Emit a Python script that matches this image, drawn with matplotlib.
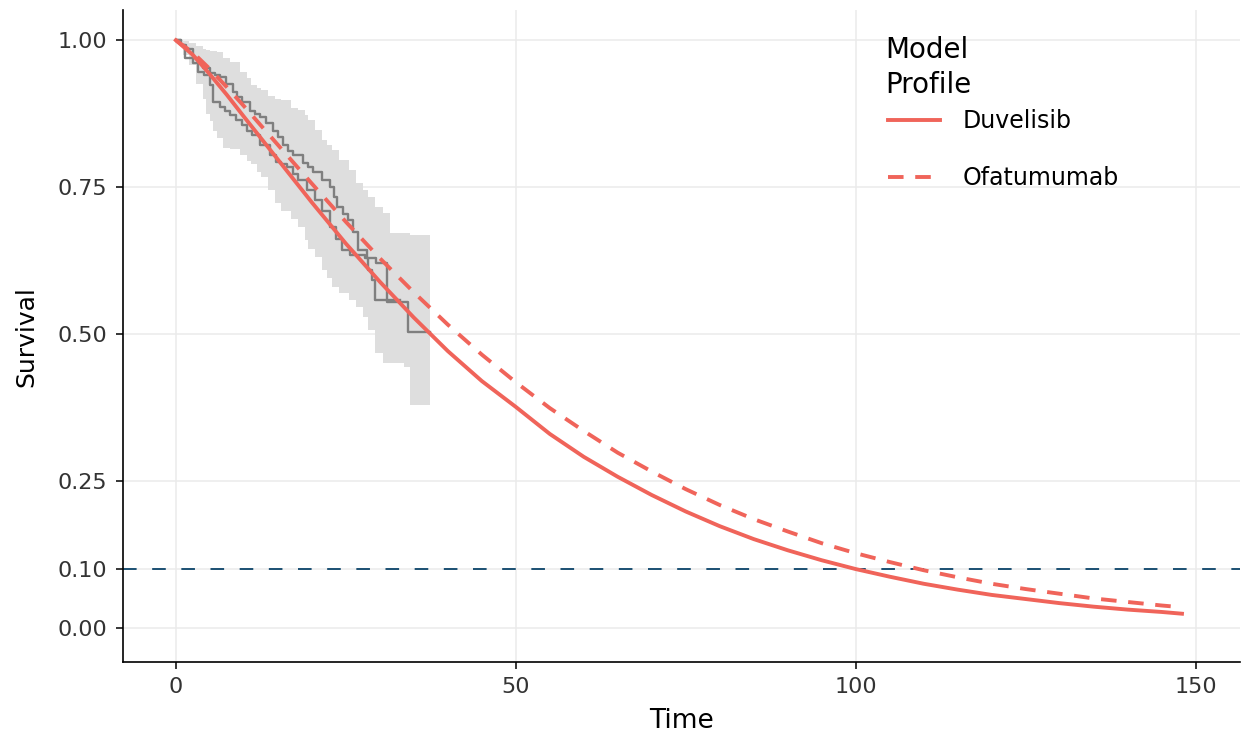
import numpy as np
import matplotlib.pyplot as plt

# parametric model curves
model_t = [0, 2.5, 5, 7.5, 10, 15, 20, 25, 30, 35, 40, 45, 50, 55, 60, 65, 70, 75, 80, 85,
           90, 95, 100, 105, 110, 115, 120, 125, 130, 135, 140, 145, 148]
duvelisib = [1.0, 0.975, 0.942, 0.907, 0.870, 0.797, 0.724, 0.654, 0.589, 0.528, 0.471, 0.420,
             0.376, 0.330, 0.291, 0.257, 0.226, 0.198, 0.173, 0.151, 0.132, 0.115,
             0.100, 0.087, 0.075, 0.065, 0.056, 0.049, 0.042, 0.036, 0.031, 0.027, 0.024]
ofatumumab = [1.0, 0.979, 0.951, 0.920, 0.888, 0.822, 0.756, 0.691, 0.629, 0.571, 0.516, 0.465,
              0.418, 0.374, 0.335, 0.298, 0.266, 0.236, 0.209, 0.185, 0.164, 0.144,
              0.127, 0.112, 0.098, 0.086, 0.075, 0.066, 0.058, 0.050, 0.044, 0.038, 0.035]

# Kaplan-Meier step curves
km_a_t = [0, 0.8, 1.5, 2.5, 3.2, 4, 5, 5.8, 6.5, 7.4, 8.4, 9.0, 9.7, 10.9, 11.6, 12.4, 13.2,
          14.3, 15.0, 15.7, 16.5, 17.2, 18.7, 19.4, 20.1, 21.5, 22.6, 23.2, 23.7, 24.6,
          25.3, 26.0, 26.8, 28.1, 29.5, 31.0, 34.1, 37.4]
km_a_s = [1.0, 0.992, 0.985, 0.97, 0.962, 0.952, 0.945, 0.941, 0.937, 0.925, 0.912, 0.904,
          0.895, 0.88, 0.875, 0.869, 0.859, 0.845, 0.835, 0.821, 0.812, 0.804, 0.791, 0.784,
          0.776, 0.762, 0.75, 0.733, 0.716, 0.704, 0.694, 0.673, 0.643, 0.629, 0.621, 0.554,
          0.503, 0.503]
km_b_t = [0, 0.8, 1.3, 2.5, 3.2, 4.2, 5.0, 5.4, 6.5, 7.2, 7.9, 8.8, 9.7, 10.4, 11.2, 12.4,
          13.8, 14.8, 15.5, 16.3, 17.2, 18.0, 19.3, 20.4, 21.5, 22.6, 23.5, 24.4, 25.6,
          27.8, 28.2, 28.8, 29.3, 33.0]
km_b_s = [1.0, 0.992, 0.97, 0.962, 0.946, 0.94, 0.923, 0.895, 0.886, 0.879, 0.872, 0.864,
          0.855, 0.846, 0.838, 0.821, 0.805, 0.793, 0.789, 0.784, 0.772, 0.762, 0.745, 0.728,
          0.71, 0.682, 0.662, 0.643, 0.635, 0.629, 0.609, 0.592, 0.558, 0.558]

# confidence band
band_t = [0, 1, 2, 3, 4, 4.5, 5, 5.5, 6, 7, 8, 9.5, 10.5, 11, 12, 12.5, 13.5, 14.6, 15.5,
          17, 18, 19, 19.5, 20.5, 21.5, 22.3, 23, 24, 25.5, 26.5, 27.5, 28.3, 29.3,
          30.5, 31.5, 33.5, 34.5, 37.4]
band_hi = [1.0, 0.998, 0.995, 0.99, 0.985, 0.984, 0.982, 0.981, 0.98, 0.97, 0.963, 0.946,
           0.935, 0.923, 0.918, 0.915, 0.905, 0.9, 0.898, 0.885, 0.881, 0.872, 0.864, 0.847,
           0.83, 0.822, 0.813, 0.796, 0.779, 0.757, 0.745, 0.733, 0.716, 0.706, 0.672,
           0.672, 0.668, 0.668]
band_lo = [1.0, 0.975, 0.957, 0.925, 0.9, 0.875, 0.862, 0.845, 0.833, 0.816, 0.815, 0.805,
           0.795, 0.79, 0.775, 0.767, 0.745, 0.723, 0.71, 0.695, 0.682, 0.66, 0.645, 0.631,
           0.609, 0.595, 0.58, 0.57, 0.558, 0.546, 0.529, 0.507, 0.468, 0.451, 0.45, 0.444,
           0.379, 0.379]

red = '#F0645A'

fig = plt.figure(figsize=(12.41, 7.33), dpi=100)
ax = fig.add_axes([0.099, 0.097, 0.9, 0.889])

ax.fill_between(band_t, band_lo, band_hi, step='post', color='#DEDEDE', lw=0, zorder=1)
ax.step(km_a_t, km_a_s, where='post', color='#7F7F7F', lw=1.7, zorder=2)
ax.step(km_b_t, km_b_s, where='post', color='#7F7F7F', lw=1.7, zorder=2)
ax.plot(model_t, duvelisib, color=red, lw=2.8, label='Duvelisib', zorder=3)
ax.plot(model_t, ofatumumab, color=red, lw=2.8, dashes=(4, 3), label='Ofatumumab', zorder=3)
ax.axhline(0.1, color='#1B4F72', lw=1.4, dashes=(7, 8), zorder=2.5)

ax.set_xlim(-7.8, 156.5)
ax.set_ylim(-0.058, 1.051)
ax.set_xticks([0, 50, 100, 150])
ax.set_yticks([0, 0.1, 0.25, 0.5, 0.75, 1.0])
ax.set_yticklabels(['0.00', '0.10', '0.25', '0.50', '0.75', '1.00'])
ax.grid(True, color='#EBEBEB', lw=1.1, zorder=0)
ax.set_axisbelow(True)
for s in ['top', 'right']:
    ax.spines[s].set_visible(False)
for s in ['left', 'bottom']:
    ax.spines[s].set_linewidth(1.2)
ax.tick_params(labelsize=16, labelcolor='#333333', length=5, width=1.1, pad=6)
ax.set_xlabel('Time', fontsize=19, labelpad=8)
ax.set_ylabel('Survival', fontsize=18, labelpad=14)

fig.text(885 / 1241, 1 - 36 / 733, 'Model\nProfile', fontsize=20, va='top', ha='left',
         linespacing=1.3)
leg = ax.legend(loc='upper left', bbox_to_anchor=(888 / 1241, 1 - 109 / 733),
                bbox_transform=fig.transFigure, frameon=False, fontsize=17,
                borderpad=0, borderaxespad=0, handlelength=2.2, labelspacing=1.4,
                handletextpad=0.95)

fig.savefig('out.png', dpi=100)
